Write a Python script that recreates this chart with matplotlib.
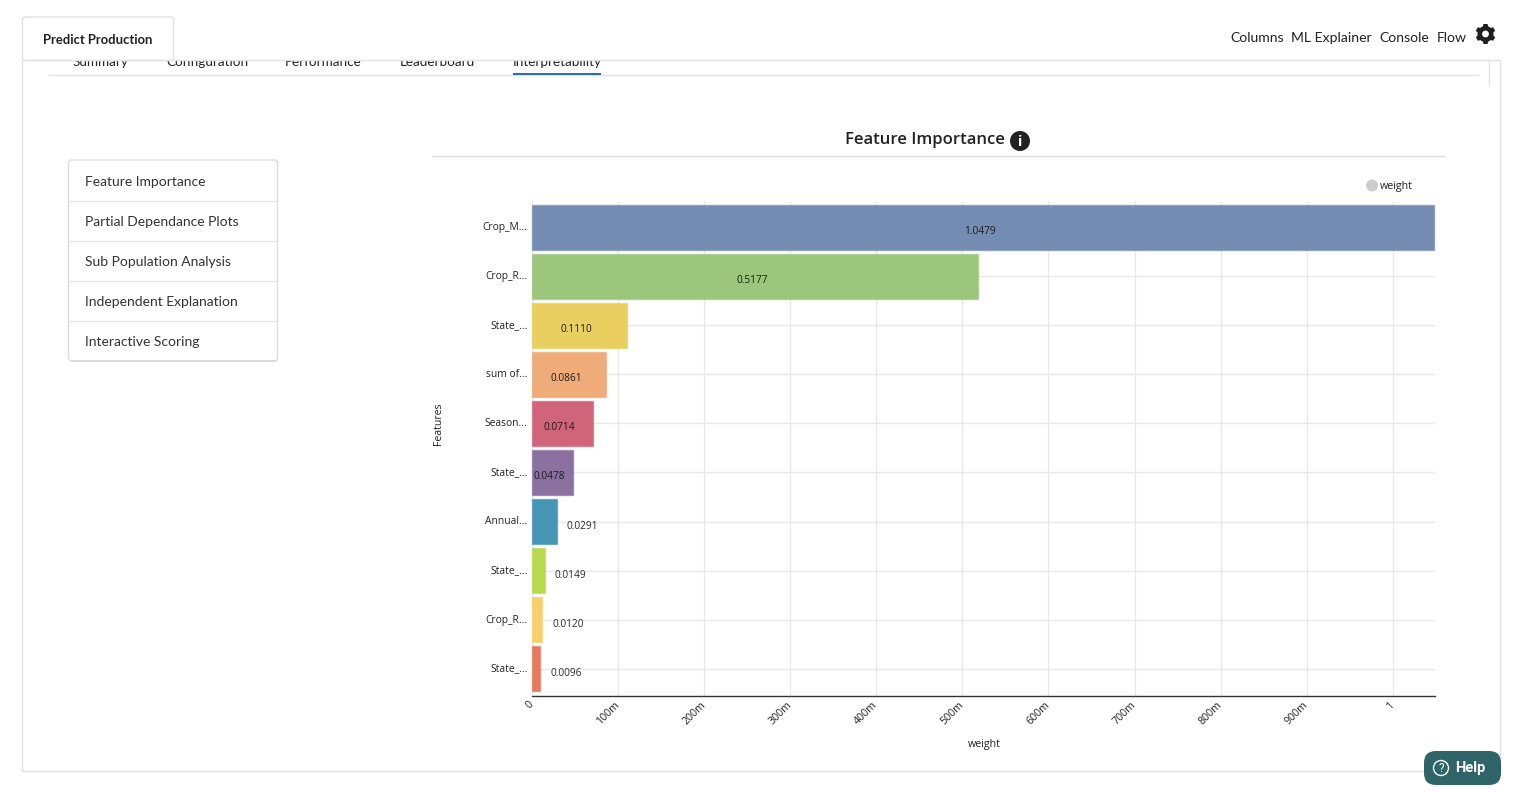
import numpy as np
import matplotlib
matplotlib.use("Agg")
import matplotlib.pyplot as plt
from matplotlib.patches import Rectangle, Circle, FancyBboxPatch, Wedge, Polygon
from matplotlib.transforms import ScaledTranslation

W, H = 1530, 792

features = ["Crop_M...", "Crop_R...", "State_...", "sum of...", "Season...",
            "State_...", "Annual...", "State_...", "Crop_R...", "State_..."]
weights = [1.0479, 0.5177, 0.1110, 0.0861, 0.0714, 0.0478, 0.0291, 0.0149, 0.0120, 0.0096]
bar_colors = ["#758cb3", "#9bc67b", "#e9cf5f", "#efac78", "#d0647a",
              "#8a71a0", "#4795b5", "#b8d94e", "#f6d06a", "#e77a5d"]
x_ticks = [0, 0.1, 0.2, 0.3, 0.4, 0.5, 0.6, 0.7, 0.8, 0.9, 1.0]
x_tick_labels = ["0", "100m", "200m", "300m", "400m", "500m", "600m", "700m", "800m", "900m", "1"]

tabs = ["Summary", "Configuration", "Performance", "Leaderboard", "Interpretability"]
tab_x = [100, 207, 323, 437, 557]
menu_items = ["Feature Importance", "Partial Dependance Plots", "Sub Population Analysis",
              "Independent Explanation", "Interactive Scoring"]
top_links = ["Columns", "ML Explainer", "Console", "Flow"]
top_link_x = [1230.5, 1291.5, 1379.5, 1436.5]

UI_FONT = "Lato"
CHART_FONT = "Open Sans"
DARK = "#222222"
LINE = "#e2e2e2"

fig = plt.figure(figsize=(W / 100, H / 100), dpi=100, facecolor="white")

# page chrome, drawn in pixel coordinates
ui = fig.add_axes([0, 0, 1, 1])
ui.set_xlim(0, W)
ui.set_ylim(H, 0)
ui.axis("off")


def hline(x0, x1, y, color=LINE, lw=1.0, z=3):
    ui.plot([x0, x1], [y - 0.7, y - 0.7], color=color, lw=lw, zorder=z, solid_capstyle="butt")


def vline(x, y0, y1, color=LINE, lw=1.0, z=3):
    ui.plot([x, x], [y0, y1], color=color, lw=lw, zorder=z, solid_capstyle="butt")


# tabs cut off by the panel top
for name, x in zip(tabs, tab_x):
    ui.text(x, 65.5, name, family=UI_FONT, fontsize=9.7, color=DARK, ha="center", va="baseline", zorder=1)
ui.add_patch(Rectangle((0, 0), W, 60.5, fc="white", ec="none", zorder=2))

# active tab sits on the panel top line
ui.add_patch(FancyBboxPatch((22.5, 17), 151, 43.5, boxstyle="round,pad=0,rounding_size=3",
                            fc="white", ec=LINE, lw=1, zorder=2.2))

hline(22.5, 1500.5, 61)
hline(22.5, 1500.5, 772)
vline(22.5, 60, 771.5)
vline(1500.5, 60, 771.5)
vline(1489.5, 61, 86)
hline(48, 1479, 76)
ui.add_patch(Rectangle((513, 73), 88, 2.2, fc="#2f6ea5", ec="none", zorder=4))

ui.text(98, 39.5, "Predict Production", family=UI_FONT, fontsize=9.4, fontweight="bold",
        color=DARK, ha="center", va="center", zorder=5)

# top right links
for name, x in zip(top_links, top_link_x):
    ui.text(x, 37.7, name, family=UI_FONT, fontsize=10.1, color=DARK, ha="left", va="center", zorder=5)

# gear icon
gx, gy = 1485.5, 34
ui.add_patch(Wedge((gx, gy), 8, 0, 360, width=4.6, fc="#1f1f1f", ec="none", zorder=5))
for ang in np.arange(0, 360, 60) + 30:
    a = np.deg2rad(ang)
    ux, uy = np.cos(a), np.sin(a)
    px, py = -uy, ux
    pts = [(gx + 6 * ux + 2.8 * px, gy + 6 * uy + 2.8 * py),
           (gx + 10 * ux + 2.1 * px, gy + 10 * uy + 2.1 * py),
           (gx + 10 * ux - 2.1 * px, gy + 10 * uy - 2.1 * py),
           (gx + 6 * ux - 2.8 * px, gy + 6 * uy - 2.8 * py)]
    ui.add_patch(Polygon(pts, fc="#1f1f1f", ec="none", zorder=5))

# side menu
ui.add_patch(FancyBboxPatch((69.5, 161.5), 208, 200.5, boxstyle="round,pad=0,rounding_size=3",
                            fc="#d8d8d8", ec="none", zorder=2.5))
ui.add_patch(FancyBboxPatch((68.5, 160), 209, 200.7, boxstyle="round,pad=0,rounding_size=3",
                            fc="white", ec="#dcdcdc", lw=1, zorder=3))
for i, name in enumerate(menu_items):
    ui.text(85, 181.5 + 40 * i, name, family=UI_FONT, fontsize=10.0, color="#333333",
            ha="left", va="center", zorder=5)
    if i > 0:
        hline(69, 277, 162 + 40 * i, color="#e6e6e6", z=4)

# chart title block
ui.text(924.5, 139.5, "Feature Importance", family=CHART_FONT, fontsize=12, fontweight="semibold",
        color=DARK, ha="center", va="center", zorder=5)
ui.add_patch(Circle((1020, 141), 10, fc="#222222", ec="none", zorder=5))
ui.text(1020, 141.5, "i", family=CHART_FONT, fontsize=10.5, fontweight="bold", color="white",
        ha="center", va="center", zorder=6)
hline(432, 1445, 157, color="#dddddd")

# legend and axis titles
ui.add_patch(Circle((1372, 185.5), 6, fc="#cccccc", ec="none", zorder=5))
ui.text(1380, 186.5, "weight", family=CHART_FONT, fontsize=7.7, fontweight="medium", color=DARK,
        ha="left", va="center", zorder=5)
ui.text(439, 424, "Features", family=CHART_FONT, fontsize=7.6, fontweight="medium", color=DARK, rotation=90,
        ha="center", va="center", zorder=5)
ui.text(984, 744, "weight", family=CHART_FONT, fontsize=7.7, fontweight="medium", color=DARK,
        ha="center", va="center", zorder=5)

# help button
ui.add_patch(FancyBboxPatch((1424, 751), 77, 34, boxstyle="round,pad=0,rounding_size=12",
                            fc="#2f6468", ec="none", zorder=5))
ui.add_patch(Circle((1441, 768), 7.5, fc="none", ec="white", lw=1, zorder=6))
ui.text(1441, 768, "?", family="Roboto", fontsize=8.5, color="white", ha="center", va="center", zorder=6)
ui.text(1455, 768, "Help", family="Roboto", fontsize=10.5, fontweight="bold", color="white",
        ha="left", va="center", zorder=6)

# the chart itself
left, right, top, bottom = 531.8, 1435.0, 200.6, 695.8
ax = fig.add_axes([left / W, 1 - bottom / H, (right - left) / W, (bottom - top) / H], facecolor="none")
ax.set_zorder(2)

ys = np.arange(len(features))
step = 49.08
ax.set_xlim(0, (right - left) / 861.0)
ax.set_ylim(9 + (bottom - 668.8) / step, -(227.1 - top) / step)

ax.barh(ys, weights, height=0.915, color=bar_colors, edgecolor=[c + "99" for c in bar_colors],
        linewidth=1.0, zorder=2, clip_on=False)

for y, v in zip(ys, weights):
    if v > 0.04:
        ax.annotate(f"{v:.4f}", xy=(v / 2, y), xytext=(-2, -3.2), textcoords="offset points",
                    family=CHART_FONT, fontsize=7.3, fontweight="medium", color="#1c1c1c",
                    ha="center", va="center", zorder=3)
    else:
        ax.annotate(f"{v:.4f}", xy=(v, y), xytext=(7.3, -3.2), textcoords="offset points",
                    family=CHART_FONT, fontsize=7.3, fontweight="medium", color="#2b2b2b",
                    ha="left", va="center", zorder=3)

ax.set_axisbelow(True)
ax.grid(True, color="#e8e8e8", lw=1)
for side in ["top", "right", "left"]:
    ax.spines[side].set_visible(False)
ax.spines["bottom"].set_color("#333333")
ax.spines["bottom"].set_linewidth(1.0)

ax.set_yticks(ys)
ax.set_yticklabels(features, family=CHART_FONT, fontsize=7.4, fontweight="medium", color=DARK)
ax.tick_params(axis="y", length=0, pad=3.2)
for lab in ax.get_yticklabels():
    lab.set_transform(lab.get_transform() + ScaledTranslation(0, 1.2 / 100, fig.dpi_scale_trans))

ax.set_xticks(x_ticks)
ax.set_xticklabels(x_tick_labels, family=CHART_FONT, fontsize=7.7, fontweight="medium", color=DARK, rotation=45,
                   ha="right", va="center", rotation_mode="anchor")
ax.tick_params(axis="x", length=0, pad=5.5)

fig.savefig("out.png", dpi=100)
